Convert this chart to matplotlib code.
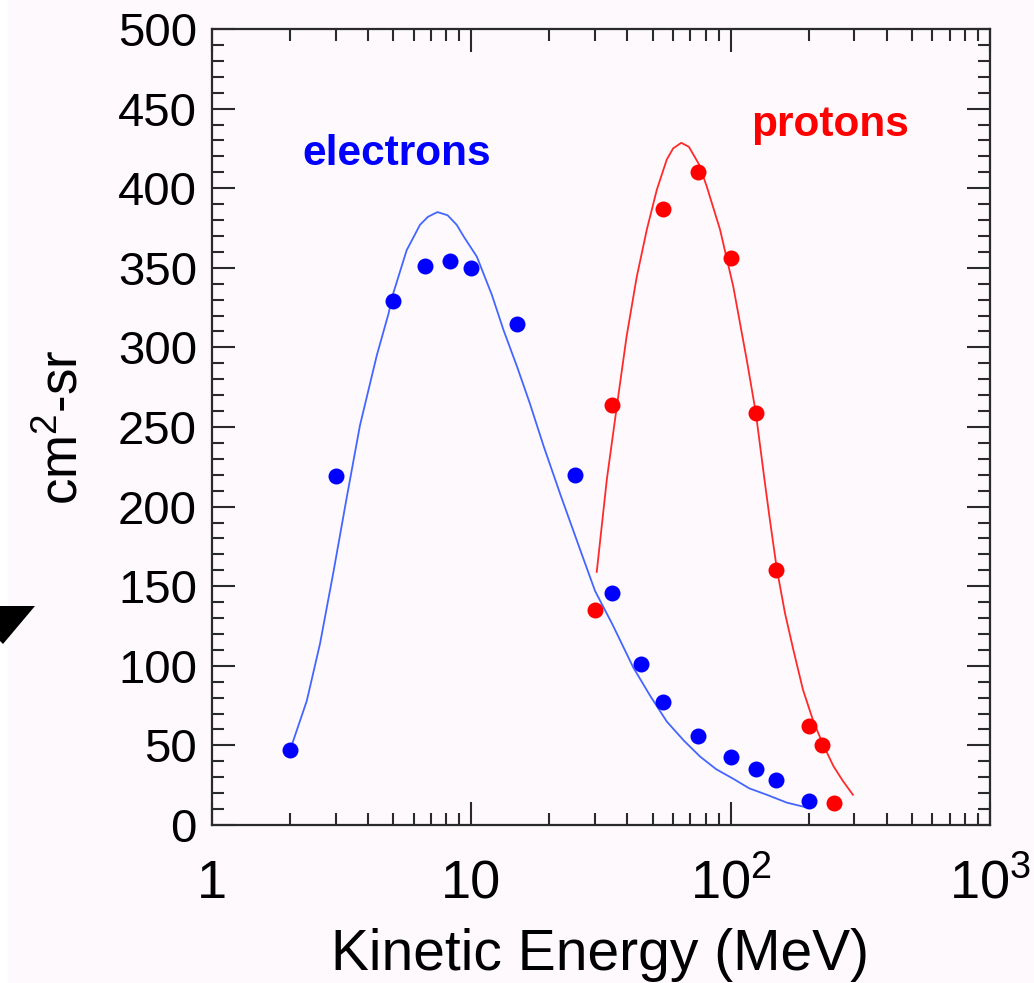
import matplotlib
matplotlib.use('Agg')
import matplotlib.pyplot as plt
from matplotlib.ticker import FixedLocator, FixedFormatter, MultipleLocator, LogLocator, NullFormatter
from matplotlib.patches import Polygon, Rectangle

plt.rcParams['font.family'] = ['Liberation Sans', 'DejaVu Sans']
plt.rcParams['mathtext.fontset'] = 'custom'
plt.rcParams['mathtext.rm'] = 'Liberation Sans'
plt.rcParams['mathtext.it'] = 'Liberation Sans:italic'
plt.rcParams['mathtext.bf'] = 'Liberation Sans:bold'
plt.rcParams['mathtext.default'] = 'regular'

# ---------------- data ----------------
electron_energy = [2, 3, 5, 6.6, 8.3, 10, 15, 25, 35, 45, 55, 75, 100, 125, 150, 200]
electron_value = [47, 219, 329, 351, 354, 350, 315, 220, 146, 101, 77, 56, 43, 35, 28, 15]

proton_energy = [30, 35, 55, 75, 100, 125, 150, 200, 225, 250]
proton_value = [135, 264, 387, 410, 356, 259, 160, 62, 50, 14]

electron_fit_energy = [2.0, 2.32, 2.61, 2.94, 3.31, 3.72, 4.32, 4.79, 5.0, 5.63, 6.34, 6.8,
                       7.4, 8.1, 8.78, 9.4, 10.5, 12.0, 13.3, 15.0, 16.8, 19.0, 22, 26,
                       30, 35, 42.1, 49, 56.7, 66, 76.2, 88, 102.4, 118, 137.8, 165,
                       196.6]
electron_fit_value = [47, 78, 114, 159, 206, 251, 295, 321, 334, 361, 377, 382,
                      385, 383, 377, 369, 357, 333, 311, 288, 265, 238, 208, 175,
                      147, 126, 99, 81, 65, 53, 43, 35, 29, 23, 19, 14,
                      11]

proton_fit_energy = [30.45, 33.3, 36.4, 39.7, 43.4, 47.5, 51.9, 56.7, 60, 64.5, 69,
                     75.5, 80.9, 91, 102.4, 115.4, 125, 135, 141, 150.6, 162, 174.5,
                     190, 208.5, 228, 249, 270, 296]
proton_fit_value = [159, 217, 263, 307, 344, 374, 399, 418, 425, 428.5, 426,
                    415, 401, 374, 338, 292, 259, 217, 194, 161, 133, 110,
                    85, 65, 50, 37, 28, 19]

x_tick_values = [1, 10, 100, 1000]
x_tick_labels = ['1', '10', '$10^2$', '$10^3$']

BG = '#fdf9fd'
AXC = '#2a2a2a'

fig = plt.figure(figsize=(10.34, 9.83), dpi=100, facecolor=BG)
fig.patches.append(Rectangle((0, 0), 8 / 1034, 1, transform=fig.transFigure,
                             facecolor='white', edgecolor='none', zorder=0))
fig.patches.append(Polygon([(0, 1 - 606 / 983), (35 / 1034, 1 - 606 / 983),
                            (3 / 1034, 1 - 644 / 983), (0, 1 - 641 / 983)],
                           closed=True, transform=fig.transFigure,
                           facecolor='black', edgecolor='none', zorder=1))

ax = fig.add_axes([212 / 1034, 1 - 825 / 983, 778 / 1034, 796 / 983])
ax.set_facecolor(BG)

ax.plot(electron_fit_energy, electron_fit_value, color='#4466ff', lw=1.3, zorder=2,
        solid_joinstyle='round')
ax.plot(proton_fit_energy, proton_fit_value, color='#ff2a2a', lw=1.3, zorder=2,
        solid_joinstyle='round')
ax.plot(electron_energy, electron_value, 'o', color='#0000ff', ms=11.5, mew=0, zorder=3)
ax.plot(proton_energy, proton_value, 'o', color='#ff0000', ms=11.5, mew=0, zorder=3)

ax.set_xscale('log')
ax.set_xlim(1, 1000)
ax.set_ylim(0, 500)

ax.xaxis.set_major_locator(FixedLocator(x_tick_values))
ax.xaxis.set_major_formatter(FixedFormatter(x_tick_labels))
ax.xaxis.set_minor_locator(LogLocator(base=10, subs=[2, 3, 4, 5, 6, 7, 8, 9]))
ax.xaxis.set_minor_formatter(NullFormatter())
ax.yaxis.set_major_locator(MultipleLocator(50))
ax.yaxis.set_minor_locator(MultipleLocator(10))

ax.tick_params(which='both', direction='in', top=True, right=True, color=AXC, width=1.5)
ax.tick_params(which='major', length=16.5)
ax.tick_params(which='minor', length=8.5)
ax.tick_params(axis='y', labelsize=34, pad=10.8)
ax.tick_params(axis='x', labelsize=39, pad=52.6)
for t in ax.get_xticklabels():
    t.set_va('baseline')

for s in ax.spines.values():
    s.set_linewidth(1.6)
    s.set_color(AXC)

ax.text(5.16, 414.6, 'electrons', color='#0000ff', fontsize=30.5, fontweight='bold',
        ha='center', va='baseline')
ax.text(241, 432.8, 'protons', color='#ff0000', fontsize=30.5, fontweight='bold',
        ha='center', va='baseline')

ax.set_xlabel('Kinetic Energy (MeV)', fontsize=41)
ax.xaxis.label.set_va('baseline')
ax.xaxis.set_label_coords(0.4987, -(970 - 825) / 796)

ax.set_ylabel('cm$^2$-sr', fontsize=38)
ax.yaxis.label.set_va('baseline')
ax.yaxis.set_label_coords((78 - 212) / 778, 0.5)

fig.savefig('out.png', dpi=100, facecolor=BG)
